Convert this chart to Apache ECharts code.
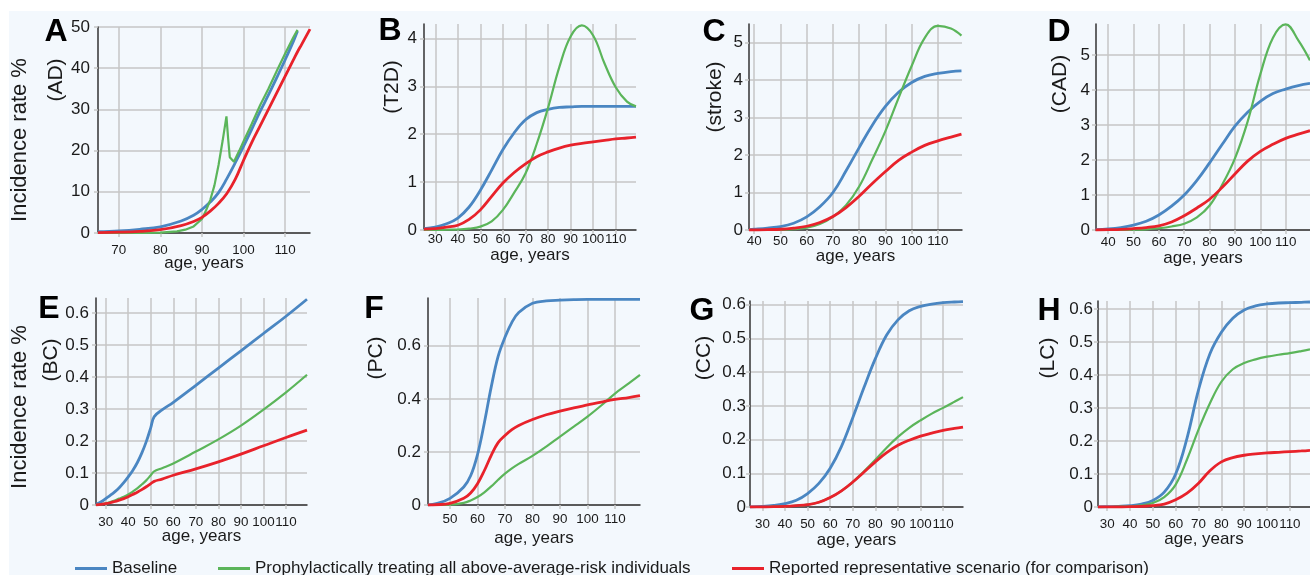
<!DOCTYPE html>
<html>
<head>
<meta charset="utf-8">
<script src="https://cdn.jsdelivr.net/npm/echarts@6/dist/echarts.min.js"></script>
<style>
  html, body { margin: 0; padding: 0; background: #fff; }
  #chart { width: 1310px; height: 575px; }
</style>
</head>
<body>
<div id="chart"></div>
<script>
// series names
const NAME_BASE = 'Baseline'
const NAME_PROPH = 'Prophylactically treating all above-average-risk individuals'
const NAME_REPORT = 'Reported representative scenario (for comparison)'

// A (AD)
const agesA = [65, 70, 75, 80, 85, 88, 90, 92, 94, 96, 98, 100, 102, 104, 106, 108, 110, 112, 113, 114, 116]
const baseA = [0.3, 0.5, 0.9, 1.5, 2.9, 4.3, 5.7, 7.5, 9.8, 13.2, 17, 21, 25.2, 29.5, 33.5, 37.7, 42, 46.5, 49, null, null]
const reportA = [0.1, 0.2, 0.4, 0.8, 1.8, 2.8, 3.8, 5.3, 7.2, 9.6, 13, 17.6, 22, 26, 30, 34, 38, 42, 44, 45.8, 49.5]
const agesAProph = [65, 75, 80, 84, 86, 88, 90, 91, 92, 93, 94, 95, 95.9, 96.3, 96.7, 97.7, 99, 100, 102, 104, 106, 108, 110, 112, 113]
const prophA = [0, 0, 0.1, 0.4, 0.8, 1.6, 3.4, 5.5, 8, 11.5, 16.5, 22.5, 28.3, 23, 18.4, 17.3, 20, 22.2, 26.5, 31, 35, 39.3, 43.5, 47.5, 49.3]

// B (T2D)
const agesB = [25, 30, 35, 40, 45, 50, 55, 60, 65, 70, 75, 80, 85, 90, 95, 100, 105, 110, 115, 119]
const baseB = [0.03, 0.06, 0.13, 0.25, 0.48, 0.83, 1.25, 1.68, 2.03, 2.3, 2.45, 2.52, 2.56, 2.57, 2.58, 2.58, 2.58, 2.58, 2.58, 2.58]
const prophB = [0, 0, 0.005, 0.01, 0.03, 0.07, 0.18, 0.42, 0.78, 1.18, 1.8, 2.55, 3.4, 4.04, 4.27, 4.06, 3.48, 2.98, 2.68, 2.58]
const reportB = [0.02, 0.03, 0.06, 0.1, 0.22, 0.42, 0.7, 0.98, 1.2, 1.38, 1.53, 1.63, 1.71, 1.77, 1.81, 1.84, 1.87, 1.9, 1.92, 1.94]

// C (stroke)
const agesC = [38, 40, 45, 50, 55, 60, 65, 70, 75, 80, 85, 90, 95, 100, 105, 110, 115, 119]
const baseC = [0.01, 0.02, 0.05, 0.09, 0.18, 0.35, 0.62, 1.0, 1.58, 2.2, 2.8, 3.3, 3.68, 3.94, 4.1, 4.18, 4.23, 4.25]
const prophC = [0, 0, 0, 0.01, 0.02, 0.06, 0.16, 0.35, 0.66, 1.16, 1.88, 2.64, 3.52, 4.38, 5.13, 5.45, 5.38, 5.19]
const reportC = [0, 0, 0.01, 0.02, 0.05, 0.1, 0.2, 0.36, 0.6, 0.9, 1.24, 1.56, 1.86, 2.08, 2.26, 2.38, 2.48, 2.56]

// D (CAD)
const agesD = [35, 40, 45, 50, 55, 60, 65, 70, 75, 80, 85, 90, 95, 100, 105, 110, 115, 119.6]
const baseD = [0.01, 0.03, 0.07, 0.14, 0.25, 0.43, 0.68, 1.0, 1.42, 1.92, 2.45, 2.97, 3.37, 3.68, 3.9, 4.03, 4.13, 4.19]
const prophD = [0, 0, 0, 0.01, 0.02, 0.05, 0.1, 0.18, 0.36, 0.7, 1.3, 2.05, 3.1, 4.45, 5.5, 5.88, 5.42, 4.85]
const reportD = [0, 0.01, 0.02, 0.04, 0.07, 0.12, 0.23, 0.41, 0.63, 0.88, 1.22, 1.6, 1.97, 2.25, 2.45, 2.62, 2.74, 2.84]

// E (BC)
const agesE = [25.7, 28, 30, 32, 34, 36, 38, 40, 42, 44, 46, 48, 50, 51.5, 55, 60, 70, 80, 90, 100, 110, 119.3]
const baseE = [0.002, 0.01, 0.02, 0.03, 0.041, 0.054, 0.07, 0.088, 0.108, 0.132, 0.162, 0.198, 0.242, 0.276, 0.297, 0.321, 0.374, 0.428, 0.482, 0.536, 0.59, 0.643]
const prophE = [0, 0.002, 0.005, 0.009, 0.014, 0.02, 0.026, 0.033, 0.042, 0.052, 0.064, 0.077, 0.093, 0.105, 0.115, 0.13, 0.167, 0.205, 0.248, 0.298, 0.352, 0.407]
const reportE = [0, 0.002, 0.004, 0.007, 0.011, 0.015, 0.02, 0.026, 0.033, 0.04, 0.048, 0.057, 0.067, 0.074, 0.081, 0.093, 0.113, 0.135, 0.159, 0.185, 0.211, 0.234]

// F (PC)
const agesF = [42, 45, 50, 55, 57.5, 60, 62.5, 65, 67.5, 70, 72.5, 75, 80, 85, 90, 95, 100, 105, 110, 115, 119.1]
const baseF = [0, 0.005, 0.025, 0.068, 0.11, 0.19, 0.31, 0.445, 0.56, 0.632, 0.688, 0.725, 0.76, 0.769, 0.772, 0.774, 0.775, 0.775, 0.775, 0.775, 0.775]
const prophF = [0, 0, 0.001, 0.008, 0.017, 0.03, 0.048, 0.07, 0.095, 0.118, 0.138, 0.155, 0.185, 0.22, 0.258, 0.295, 0.333, 0.375, 0.42, 0.458, 0.49]
const reportF = [0, 0.001, 0.006, 0.025, 0.045, 0.08, 0.13, 0.187, 0.235, 0.262, 0.284, 0.3, 0.322, 0.34, 0.354, 0.366, 0.377, 0.388, 0.398, 0.405, 0.412]

// G (CC)
const agesG = [24.5, 30, 35, 40, 45, 50, 55, 60, 65, 70, 75, 80, 85, 90, 95, 100, 105, 110, 115, 118.8]
const baseG = [0, 0.002, 0.005, 0.01, 0.02, 0.04, 0.07, 0.115, 0.18, 0.265, 0.355, 0.44, 0.51, 0.555, 0.582, 0.595, 0.602, 0.606, 0.608, 0.609]
const prophG = [0, 0, 0.001, 0.002, 0.004, 0.007, 0.014, 0.028, 0.048, 0.074, 0.106, 0.14, 0.176, 0.208, 0.235, 0.257, 0.277, 0.294, 0.312, 0.326]
const reportG = [0, 0, 0.001, 0.002, 0.004, 0.007, 0.014, 0.028, 0.048, 0.074, 0.104, 0.134, 0.161, 0.183, 0.198, 0.21, 0.219, 0.227, 0.233, 0.237]

// H (LC)
const agesH = [26, 30, 35, 40, 45, 50, 55, 60, 65, 70, 75, 80, 85, 90, 95, 100, 105, 110, 115, 118.8]
const baseH = [0, 0.001, 0.002, 0.004, 0.009, 0.02, 0.045, 0.1, 0.21, 0.355, 0.465, 0.53, 0.573, 0.598, 0.61, 0.616, 0.619, 0.62, 0.621, 0.622]
const prophH = [0, 0, 0.001, 0.002, 0.005, 0.012, 0.03, 0.068, 0.145, 0.235, 0.315, 0.38, 0.418, 0.437, 0.448, 0.456, 0.462, 0.467, 0.473, 0.478]
const reportH = [0, 0, 0, 0.001, 0.002, 0.004, 0.009, 0.022, 0.042, 0.072, 0.11, 0.137, 0.15, 0.157, 0.161, 0.164, 0.166, 0.168, 0.17, 0.172]

// tick labels
const xTicksA = [70, 80, 90, 100, 110]
const xTicks30 = [30, 40, 50, 60, 70, 80, 90, 100, 110]
const xTicks40 = [40, 50, 60, 70, 80, 90, 100, 110]
const xTicksF = [50, 60, 70, 80, 90, 100, 110]
const yTicksA = [0, 10, 20, 30, 40, 50]
const yTicksB = [0, 1, 2, 3, 4]
const yTicksCD = [0, 1, 2, 3, 4, 5]
const yTicksTenths = [0, 0.1, 0.2, 0.3, 0.4, 0.5, 0.6]
const yTicksF = [0, 0.2, 0.4, 0.6]

const FONT = '"Liberation Sans", Arial, Helvetica, sans-serif'
const TEXT = '#1a1a1a'
const BLUE = '#4a86c2'
const GREEN = '#5bb55a'
const RED = '#e8222b'
const GRIDLINE = '#c6c6c6'

const pairs = (xs, ys) => xs.map((x, i) => [x, ys[i]])

// one entry per panel: data + where it sits
const panels = [
  { tag: 'A', label: '(AD)', base: pairs(agesA, baseA), proph: pairs(agesAProph, prophA), report: pairs(agesA, reportA), prophSmooth: false,
    xTicks: xTicksA, yTicks: yTicksA, left: 98, top: 27, width: 212, height: 206, xMin: 65, xMax: 116, yMax: 50,
    xMargin: 11, yMargin: 8, nameGap: 22, tagPos: [56, 32], labelPos: [56, 80] },
  { tag: 'B', label: '(T2D)', base: pairs(agesB, baseB), proph: pairs(agesB, prophB), report: pairs(agesB, reportB),
    xTicks: xTicks30, yTicks: yTicksB, left: 424, top: 24, width: 212, height: 206, xMin: 25, xMax: 119, yMax: 4.3,
    xMargin: 3, yMargin: 7, nameGap: 17, tagPos: [390, 31], labelPos: [392, 87] },
  { tag: 'C', label: '(stroke)', base: pairs(agesC, baseC), proph: pairs(agesC, prophC), report: pairs(agesC, reportC),
    xTicks: xTicks40, yTicks: yTicksCD, left: 749, top: 24, width: 213, height: 206, xMin: 38, xMax: 119.2, yMax: 5.5,
    xMargin: 5, yMargin: 6, nameGap: 18, tagPos: [714, 32], labelPos: [715, 97] },
  { tag: 'D', label: '(CAD)', base: pairs(agesD, baseD), proph: pairs(agesD, prophD), report: pairs(agesD, reportD),
    xTicks: xTicks40, yTicks: yTicksCD, left: 1096, top: 24, width: 214, height: 206, xMin: 35.2, xMax: 119.6, yMax: 5.89,
    xMargin: 6, yMargin: 6, nameGap: 20, tagPos: [1059, 32], labelPos: [1060, 84] },
  { tag: 'E', label: '(BC)', base: pairs(agesE, baseE), proph: pairs(agesE, prophE), report: pairs(agesE, reportE),
    xTicks: xTicks30, yTicks: yTicksTenths, left: 96, top: 298, width: 211, height: 207, xMin: 25.7, xMax: 119.3, yMax: 0.647,
    xMargin: 11, yMargin: 7, nameGap: 23, tagPos: [49, 309], labelPos: [51, 360] },
  { tag: 'F', label: '(PC)', base: pairs(agesF, baseF), proph: pairs(agesF, prophF), report: pairs(agesF, reportF),
    xTicks: xTicksF, yTicks: yTicksF, left: 428, top: 298, width: 212, height: 207, xMin: 42, xMax: 119.1, yMax: 0.78,
    xMargin: 8, yMargin: 7, nameGap: 25, tagPos: [374, 309], labelPos: [376, 358] },
  { tag: 'G', label: '(CC)', base: pairs(agesG, baseG), proph: pairs(agesG, prophG), report: pairs(agesG, reportG),
    xTicks: xTicks30, yTicks: yTicksTenths, left: 750, top: 301, width: 213, height: 206, xMin: 24.5, xMax: 118.8, yMax: 0.611,
    xMargin: 11, yMargin: 4, nameGap: 25, tagPos: [702, 311], labelPos: [704, 358] },
  { tag: 'H', label: '(LC)', base: pairs(agesH, baseH), proph: pairs(agesH, prophH), report: pairs(agesH, reportH),
    xTicks: xTicks30, yTicks: yTicksTenths, left: 1098, top: 301, width: 212, height: 206, xMin: 26, xMax: 118.8, yMax: 0.625,
    xMargin: 11, yMargin: 5, nameGap: 24, tagPos: [1049, 311], labelPos: [1048, 358] }
]

const grid = [], xAxis = [], yAxis = [], series = []
const graphic = [
  { type: 'rect', z: -10, silent: true, shape: { x: 9, y: 11, width: 1301, height: 564 }, style: { fill: '#f3f8fd' } }
]

panels.forEach((p, i) => {
  grid.push({ left: p.left, top: p.top, width: p.width, height: p.height, outerBoundsMode: 'none', containLabel: false })
  xAxis.push({
    type: 'value', gridIndex: i, min: p.xMin, max: p.xMax,
    name: 'age, years', nameLocation: 'middle', nameGap: p.nameGap, nameMoveOverlap: false,
    nameTextStyle: { fontFamily: FONT, fontSize: 17, color: TEXT },
    axisLine: { show: true, onZero: false, lineStyle: { color: '#333', width: 1.5 } },
    axisTick: { show: true, length: 4, customValues: p.xTicks, lineStyle: { color: GRIDLINE, width: 1.5 } },
    // 100 and 110 sit almost touching, as in the source figure
    axisLabel: { customValues: p.xTicks, interval: 0, margin: p.xMargin, fontFamily: FONT, fontSize: 13.4, color: TEXT,
      hideOverlap: false, showMinLabel: true, showMaxLabel: true },
    splitLine: { show: true, lineStyle: { color: GRIDLINE, width: 1.5 } }
  })
  yAxis.push({
    type: 'value', gridIndex: i, min: 0, max: p.yMax,
    axisLine: { show: true, lineStyle: { color: '#333', width: 1.5 } },
    axisTick: { show: true, length: 4, customValues: p.yTicks, lineStyle: { color: GRIDLINE, width: 1.5 } },
    axisLabel: { customValues: p.yTicks, margin: p.yMargin, fontFamily: FONT, fontSize: 17, color: TEXT,
      hideOverlap: false, showMinLabel: true, showMaxLabel: true },
    splitLine: { show: true, lineStyle: { color: GRIDLINE, width: 1.5 } }
  })
  const line = (name, data, color, width, smooth) => ({
    type: 'line', name, data, xAxisIndex: i, yAxisIndex: i,
    showSymbol: false, symbol: 'none', smooth, connectNulls: false,
    lineStyle: { color, width }, itemStyle: { color }, emphasis: { disabled: true }, animation: false
  })
  series.push(line(NAME_BASE, p.base, BLUE, 2.8, 0.4))
  series.push(line(NAME_PROPH, p.proph, GREEN, 2.2, p.prophSmooth === false ? false : 0.4))
  series.push(line(NAME_REPORT, p.report, RED, 2.8, 0.4))

  graphic.push({ type: 'text', x: p.tagPos[0], y: p.tagPos[1], silent: true,
    style: { text: p.tag, font: 'bold 32px ' + FONT, fill: '#000', align: 'center', verticalAlign: 'middle', textAlign: 'center', textVerticalAlign: 'middle' } })
  graphic.push({ type: 'text', x: p.labelPos[0], y: p.labelPos[1], rotation: Math.PI / 2, silent: true,
    style: { text: p.label, font: '21px ' + FONT, fill: TEXT, align: 'center', verticalAlign: 'middle', textAlign: 'center', textVerticalAlign: 'middle' } })
})

// shared row label
;[140, 407].forEach(cy => {
  graphic.push({ type: 'text', x: 20, y: cy, rotation: Math.PI / 2, silent: true,
    style: { text: 'Incidence rate %', font: '22px ' + FONT, fill: TEXT, align: 'center', verticalAlign: 'middle', textAlign: 'center', textVerticalAlign: 'middle' } })
})

const legendBase = { orient: 'horizontal', top: 560, padding: 0, icon: 'rect', itemWidth: 32, itemHeight: 3, selectedMode: false,
  textStyle: { fontFamily: FONT, fontSize: 17, color: TEXT } }

const chart = echarts.init(document.getElementById('chart'), null, { renderer: 'canvas' })
chart.setOption({
  animation: false,
  grid, xAxis, yAxis, series, graphic,
  legend: [
    { ...legendBase, left: 75, data: [NAME_BASE] },
    { ...legendBase, left: 218, data: [NAME_PROPH] },
    { ...legendBase, left: 732, data: [NAME_REPORT] }
  ]
})
</script>
</body>
</html>
